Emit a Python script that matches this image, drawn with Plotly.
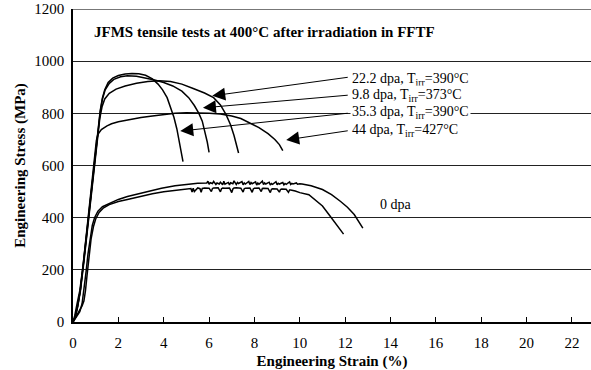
import plotly.graph_objects as go

# ---- data (Engineering strain %, Engineering stress MPa) ----
dpa353_x = [0, 0.08, 0.18, 0.3, 0.45, 0.6, 0.75, 0.9, 1.05, 1.2, 1.3, 1.4, 1.55, 1.75, 2.0, 2.3, 2.6, 2.9, 3.2, 3.5, 3.75, 3.95, 4.15, 4.3, 4.45, 4.58, 4.7, 4.8, 4.85]
dpa353_y = [0, 25, 70, 120, 220, 340, 460, 580, 700, 810, 860, 890, 918, 935, 945, 951, 953, 952, 946, 932, 912, 890, 860, 825, 785, 740, 690, 640, 615]

dpa98_x = [0, 0.1, 0.2, 0.32, 0.47, 0.62, 0.77, 0.92, 1.07, 1.2, 1.3, 1.42, 1.6, 1.8, 2.1, 2.4, 2.8, 3.2, 3.6, 4.0, 4.4, 4.8, 5.1, 5.35, 5.55, 5.7, 5.82, 5.92, 6.0]
dpa98_y = [0, 20, 60, 120, 230, 350, 470, 590, 710, 805, 855, 890, 915, 930, 940, 944, 942, 936, 928, 918, 905, 885, 860, 830, 800, 770, 730, 690, 650]

dpa222_x = [0, 0.1, 0.2, 0.33, 0.48, 0.63, 0.78, 0.93, 1.08, 1.18, 1.28, 1.4, 1.6, 1.9, 2.3, 2.8, 3.3, 3.8, 4.3, 4.8, 5.3, 5.8, 6.2, 6.5, 6.75, 6.95, 7.1, 7.22, 7.3]
dpa222_y = [0, 18, 55, 120, 230, 350, 470, 590, 710, 780, 825, 855, 877, 893, 905, 915, 922, 925, 922, 912, 895, 878, 860, 832, 795, 755, 715, 680, 648]

dpa44_x = [0, 0.1, 0.2, 0.32, 0.46, 0.6, 0.75, 0.9, 0.98, 1.03, 1.1, 1.25, 1.5, 1.7, 2.0, 2.5, 3.0, 3.5, 4.0, 4.5, 5.0, 5.5, 6.0, 6.5, 7.0, 7.4, 7.8, 8.2, 8.6, 8.9, 9.1, 9.25]
dpa44_y = [0, 22, 60, 120, 230, 340, 460, 580, 650, 695, 720, 738, 752, 760, 768, 777, 784, 790, 796, 800, 802, 802, 800, 797, 790, 780, 763, 745, 722, 700, 680, 657]

dpa0a_x = [0, 0.1, 0.2, 0.3, 0.4, 0.5, 0.58, 0.66, 0.75, 0.85, 0.95, 1.1, 1.3, 1.6, 2.0, 2.4, 3.0, 3.5, 3.9, 4.5, 5.0, 5.5, 5.9,
           5.95, 6.0, 6.05, 6.15, 6.2, 6.3, 6.35, 6.45, 6.5, 6.6, 6.65, 6.7, 6.85, 6.9, 6.95, 7.05, 7.1, 7.2, 7.25, 7.3, 7.45, 7.5,
           7.55, 7.6, 7.75, 7.8, 7.85, 7.9, 8.05, 8.1, 8.15, 8.2, 8.35, 8.4, 8.45, 8.5, 8.65, 8.7, 8.75, 8.8, 8.95, 9.0, 9.05, 9.1,
           9.25, 9.3, 9.35, 9.4, 9.55, 9.6, 9.65, 9.7, 9.85, 9.9, 10.0, 10.1, 10.2,
           10.5, 11.0, 11.4, 11.8, 12.1, 12.4, 12.6, 12.78]
dpa0a_y = [0, 12, 25, 40, 70, 130, 195, 260, 320, 370, 400, 425, 442, 455, 470, 481, 495, 505, 513, 522, 528, 532, 533,
           540, 528, 534, 531, 539, 527, 533, 529, 536, 526, 540, 528, 535, 526, 534, 530, 541, 527, 535, 531, 538, 526,
           533, 529, 539, 527, 535, 530, 537, 525, 533, 528, 540, 527, 533, 529, 536, 525, 531, 528, 538, 526, 532, 529,
           535, 526, 531, 528, 537, 527, 531, 529, 533, 528, 530, 529, 527,
           522, 508, 488, 462, 440, 412, 385, 360]

dpa0b_x = [0, 0.1, 0.2, 0.3, 0.4, 0.48, 0.55, 0.62, 0.7, 0.8, 0.9, 1.0, 1.15, 1.35, 1.6, 2.0, 2.4, 3.0, 3.5, 4.0, 4.5, 5.0,
           5.2, 5.25, 5.3, 5.35, 5.5, 5.6, 5.65, 5.7, 5.8, 6.0, 6.1, 6.15, 6.2, 6.4, 6.5, 6.55, 6.6, 6.7, 6.9, 7.0, 7.05, 7.1,
           7.2, 7.4, 7.5, 7.55, 7.6, 7.8, 7.9, 7.95, 8.0, 8.2, 8.3, 8.35, 8.4, 8.6, 8.7, 8.75, 8.8, 9.0, 9.1, 9.15, 9.2, 9.4,
           9.5, 9.55, 9.6, 9.8, 9.9,
           10.0, 10.4, 10.75, 11.0, 11.3, 11.6, 11.93]
dpa0b_y = [0, 15, 30, 45, 62, 80, 120, 180, 250, 320, 365, 395, 420, 438, 450, 462, 470, 483, 492, 499, 505, 510,
           512, 498, 513, 500, 514, 511, 497, 512, 514, 513, 500, 512, 514, 515, 499, 511, 514, 513, 514, 496, 510, 514,
           515, 513, 498, 511, 513, 514, 497, 510, 513, 514, 500, 512, 513, 512, 496, 509, 511, 510, 498, 508, 510, 509,
           497, 506, 506, 502, 499,
           496, 488, 465, 445, 410, 375, 337]

x_ticks = [0, 2, 4, 6, 8, 10, 12, 14, 16, 18, 20, 22]
y_ticks = [0, 200, 400, 600, 800, 1000, 1200]

labels = ["22.2 dpa, T<sub>irr</sub>=390°C", "9.8 dpa, T<sub>irr</sub>=373°C",
          "35.3 dpa, T<sub>irr</sub>=390°C", "44 dpa, T<sub>irr</sub>=427°C"]
label_y = [931, 870, 802, 736]
arrow_tip_x = [6.14, 5.73, 4.73, 9.40]
arrow_tip_y = [867, 821, 732, 698]
arrow_tail_y = [939, 870, 801, 734]

FONT = "Liberation Serif, Times New Roman, serif"

fig = go.Figure()
for xs, ys in [(dpa353_x, dpa353_y), (dpa98_x, dpa98_y), (dpa222_x, dpa222_y),
               (dpa44_x, dpa44_y), (dpa0a_x, dpa0a_y), (dpa0b_x, dpa0b_y)]:
    fig.add_trace(go.Scatter(x=xs, y=ys, mode="lines",
                             line=dict(color="black", width=1.5), showlegend=False,
                             hoverinfo="skip"))

annotations = []
for txt, ly, tx, ty, ay in zip(labels, label_y, arrow_tip_x, arrow_tip_y, arrow_tail_y):
    annotations.append(dict(x=tx, y=ty, ax=12.18, ay=ay, xref="x", yref="y", axref="x", ayref="y",
                            showarrow=True, arrowhead=2, arrowsize=2.6, arrowwidth=1,
                            arrowcolor="black", text=""))
    annotations.append(dict(x=12.22, y=ly, xref="x", yref="y", text=txt, showarrow=False,
                            xanchor="left", yanchor="middle", bgcolor="white", borderpad=1,
                            font=dict(family=FONT, size=14, color="black")))
annotations.append(dict(x=13.47, y=449, xref="x", yref="y", text="0 dpa", showarrow=False,
                        xanchor="left", yanchor="middle",
                        font=dict(family=FONT, size=14, color="black")))
annotations.append(dict(x=0.85, y=1113, xref="x", yref="y",
                        text="<b>JFMS tensile tests at 400°C after irradiation in FFTF</b>",
                        showarrow=False, xanchor="left", yanchor="middle",
                        font=dict(family=FONT, size=15, color="black")))

fig.update_layout(
    width=591, height=370,
    margin=dict(l=73, r=0, t=9, b=48),
    paper_bgcolor="white", plot_bgcolor="white",
    font=dict(family=FONT, size=15, color="black"),
    annotations=annotations,
    shapes=[dict(type="line", xref="paper", yref="y", x0=0, x1=1, y0=1200, y1=1200,
                 line=dict(color="#777777", width=2))],
    xaxis=dict(range=[0, 22.84], tickvals=x_ticks, ticks="inside", ticklen=5, tickwidth=1.3,
               tickcolor="black", showgrid=False, zeroline=False, showline=True,
               linecolor="black", linewidth=1.5, ticklabelstandoff=6,
               title=dict(text="<b>Engineering Strain (%)</b>", standoff=7,
                          font=dict(family=FONT, size=15))),
    yaxis=dict(range=[0, 1200], tickvals=y_ticks, ticks="", showgrid=True, gridcolor="#222222",
               gridwidth=1.2, zeroline=False, showline=True, linecolor="black", linewidth=1.5,
               ticklabelstandoff=4,
               title=dict(text="<b>Engineering Stress (MPa)</b>", standoff=5,
                          font=dict(family=FONT, size=15))),
)

fig.write_html("out.html")
